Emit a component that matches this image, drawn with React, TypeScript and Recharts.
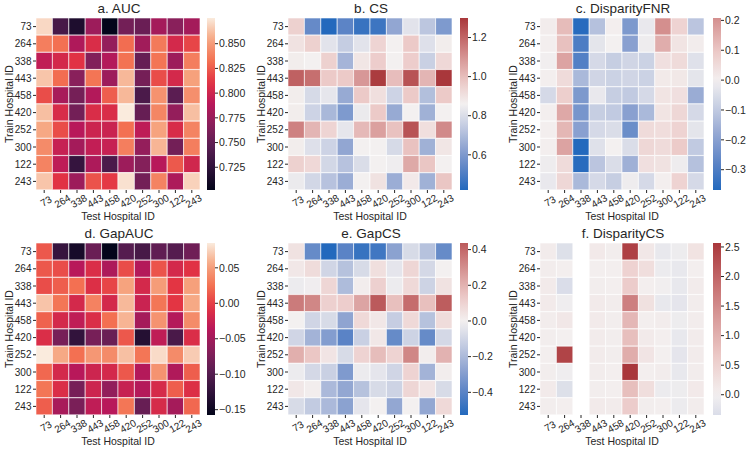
import React from 'react';
import { BarChart, Bar, XAxis, YAxis, Cell } from 'recharts';

const HOSPITALS = ['73', '264', '338', '443', '458', '420', '252', '300', '122', '243'];

// rows = train hospital, columns = test hospital (same order as HOSPITALS)
const AUC = [
  [0.870, 0.737, 0.716, 0.777, 0.702, 0.758, 0.754, 0.780, 0.768, 0.780],
  [0.838, 0.832, 0.785, 0.806, 0.773, 0.831, 0.779, 0.836, 0.803, 0.817],
  [0.793, 0.803, 0.810, 0.765, 0.787, 0.833, 0.752, 0.834, 0.777, 0.838],
  [0.864, 0.831, 0.768, 0.834, 0.777, 0.860, 0.759, 0.820, 0.803, 0.852],
  [0.820, 0.782, 0.759, 0.787, 0.826, 0.860, 0.739, 0.846, 0.747, 0.845],
  [0.862, 0.805, 0.758, 0.806, 0.806, 0.876, 0.752, 0.841, 0.773, 0.862],
  [0.855, 0.820, 0.789, 0.799, 0.798, 0.832, 0.792, 0.853, 0.805, 0.840],
  [0.843, 0.796, 0.780, 0.794, 0.796, 0.838, 0.773, 0.859, 0.758, 0.838],
  [0.840, 0.792, 0.728, 0.784, 0.739, 0.777, 0.766, 0.789, 0.824, 0.801],
  [0.864, 0.810, 0.777, 0.822, 0.813, 0.873, 0.758, 0.840, 0.784, 0.868],
];

const CS = [
  [0.95, 0.55, 0.42, 0.53, 0.46, 0.47, 0.64, 0.82, 0.73, 0.60],
  [0.90, 0.95, 0.82, 0.75, 0.82, 0.94, 0.86, 0.97, 0.81, 0.87],
  [0.87, 0.86, 0.95, 0.68, 0.89, 0.96, 0.86, 0.96, 0.76, 0.93],
  [1.21, 1.18, 0.97, 0.97, 1.09, 1.29, 1.00, 1.24, 1.02, 1.30],
  [0.87, 0.79, 0.83, 0.65, 0.97, 0.91, 0.77, 0.97, 0.71, 0.97],
  [0.87, 0.77, 0.69, 0.60, 0.84, 0.97, 0.65, 0.86, 0.67, 0.86],
  [1.14, 1.02, 0.94, 0.83, 1.01, 1.07, 0.99, 1.24, 0.91, 1.12],
  [0.87, 0.81, 0.77, 0.64, 0.86, 0.86, 0.79, 0.99, 0.67, 0.89],
  [0.95, 0.93, 0.78, 0.72, 0.80, 0.86, 0.85, 1.05, 0.98, 0.86],
  [0.84, 0.78, 0.72, 0.66, 0.86, 0.90, 0.66, 0.88, 0.67, 0.98],
];

const DISPARITY_FNR = [
  [0.01, 0.12, -0.36, -0.12, 0.005, -0.22, -0.02, 0.208, 0.07, -0.11],
  [0.005, 0.11, -0.30, -0.03, 0.0, -0.20, -0.01, 0.15, 0.03, 0.01],
  [-0.005, 0.17, -0.29, -0.06, -0.09, -0.07, -0.08, 0.04, 0.05, -0.04],
  [0.005, 0.05, -0.14, -0.07, -0.08, -0.07, -0.08, 0.015, 0.02, -0.03],
  [-0.06, 0.08, -0.22, -0.02, -0.09, -0.10, -0.06, 0.03, 0.04, -0.17],
  [0.005, 0.16, -0.23, -0.09, -0.10, -0.20, -0.14, 0.03, 0.06, -0.06],
  [0.005, 0.13, -0.20, -0.06, -0.05, -0.25, 0.05, 0.045, 0.07, -0.03],
  [0.005, 0.17, -0.368, -0.04, 0.0, -0.05, 0.06, 0.05, 0.09, -0.10],
  [-0.01, 0.05, -0.36, -0.11, -0.05, -0.16, 0.04, 0.035, -0.01, -0.12],
  [-0.02, 0.06, -0.14, -0.06, -0.09, -0.01, -0.06, 0.005, 0.07, -0.06],
];

const GAP_AUC = [
  [0.012, -0.121, -0.143, -0.085, -0.1575, -0.099, -0.109, -0.092, -0.099, -0.082],
  [0.012, 0.007, -0.036, -0.012, -0.043, 0.007, -0.039, 0.010, -0.017, -0.007],
  [0.007, 0.015, 0.024, -0.010, 0.003, 0.053, -0.017, 0.049, -0.005, 0.051],
  [0.068, 0.027, -0.017, 0.034, -0.017, 0.063, -0.024, 0.027, -0.005, 0.056],
  [0.017, -0.017, -0.031, -0.012, 0.024, 0.061, -0.048, 0.044, -0.039, 0.039],
  [-0.012, -0.077, -0.124, -0.077, -0.085, 0.012, -0.133, -0.031, -0.107, -0.012],
  [0.085, 0.056, 0.024, 0.046, 0.039, 0.066, 0.027, 0.078, 0.039, 0.071],
  [0.020, -0.017, -0.036, -0.022, -0.017, 0.012, -0.039, 0.044, -0.041, 0.015],
  [0.027, -0.012, -0.077, -0.022, -0.060, -0.026, -0.039, -0.015, 0.015, -0.010],
  [0.015, -0.046, -0.075, -0.031, -0.036, 0.027, -0.087, -0.015, -0.048, 0.020],
];

const GAP_CS = [
  [0.05, -0.37, -0.527, -0.40, -0.48, -0.46, -0.28, -0.08, -0.17, -0.37],
  [0.03, 0.07, -0.10, -0.17, -0.08, 0.06, -0.04, 0.09, -0.09, 0.00],
  [-0.02, -0.01, 0.09, -0.19, 0.01, 0.11, -0.02, 0.08, -0.11, 0.05],
  [0.35, 0.32, 0.11, 0.12, 0.24, 0.437, 0.16, 0.39, 0.16, 0.43],
  [0.00, -0.10, -0.08, -0.27, 0.08, 0.03, -0.13, 0.08, -0.17, 0.07],
  [-0.10, -0.22, -0.30, -0.40, -0.12, 0.03, -0.37, -0.11, -0.37, -0.09],
  [0.21, 0.14, 0.04, -0.08, 0.10, 0.17, 0.10, 0.32, 0.01, 0.20],
  [-0.02, -0.09, -0.12, -0.31, -0.02, -0.04, -0.10, 0.10, -0.22, 0.01],
  [0.03, 0.01, -0.20, -0.26, -0.17, -0.08, -0.11, 0.09, 0.04, -0.08],
  [-0.08, -0.14, -0.20, -0.28, -0.04, 0.00, -0.26, 0.00, -0.26, 0.08],
];

const DISPARITY_CS = [
  [0.08, -0.30, null, 0.12, 0.05, 2.45, 0.15, -0.15, -0.08, 0.22],
  [0.06, 0.03, null, 0.04, 0.03, 0.50, 0.30, -0.10, -0.15, 0.03],
  [0.10, -0.343, null, 0.05, 0.04, 0.60, 0.04, -0.03, -0.15, 0.08],
  [0.10, -0.05, null, 0.10, 0.06, 1.65, 0.25, -0.15, -0.20, 0.06],
  [0.06, 0.15, null, 0.10, 0.05, 0.90, 0.04, 0.07, -0.08, 0.06],
  [0.05, 0.02, null, 0.08, 0.05, 0.80, 0.10, 0.04, -0.15, 0.08],
  [0.04, 2.40, null, 0.08, 0.05, 1.05, 0.20, 0.02, -0.20, 0.08],
  [0.05, -0.05, null, 0.06, 0.04, 2.567, 0.04, 0.06, -0.15, 0.06],
  [0.10, -0.30, null, 0.05, 0.03, 0.80, 0.30, -0.10, -0.08, 0.12],
  [0.05, 0.04, null, 0.10, 0.08, 0.60, 0.05, 0.04, -0.10, 0.06],
];

const AUC_TICKS = [0.725, 0.75, 0.775, 0.8, 0.825, 0.85];
const CS_TICKS = [0.6, 0.8, 1.0, 1.2];
const FNR_TICKS = [-0.3, -0.2, -0.1, 0.0, 0.1, 0.2];
const GAP_AUC_TICKS = [-0.15, -0.1, -0.05, 0.0, 0.05];
const GAP_CS_TICKS = [-0.4, -0.2, 0.0, 0.2, 0.4];
const DISP_CS_TICKS = [0.0, 0.5, 1.0, 1.5, 2.0, 2.5];

const FONT = '"Liberation Sans", Arial, sans-serif';
const INK = '#262626';
const CELL_W = 164;
const CELL_H = 172;
const CB_W = 8;
const CB_PAD = 10;
const RIGHT_PAD = 14;

const ROCKET: [number, string][] = [
  [0, '#03051a'], [0.125, '#2d1239'], [0.25, '#581d51'], [0.375, '#87205b'],
  [0.5, '#b8185a'], [0.625, '#e23343'], [0.75, '#f37152'], [0.875, '#f6a681'], [1, '#faebdd'],
];
const VLAG: [number, string][] = [
  [0, '#2369bd'], [0.125, '#5c84c6'], [0.25, '#92a6d2'], [0.375, '#c5cde2'],
  [0.5, '#f3f0f0'], [0.625, '#eccac8'], [0.75, '#d99c9b'], [0.875, '#c46a6b'], [1, '#a9373b'],
];

const rgb = (h: string) => [1, 3, 5].map((i) => parseInt(h.slice(i, i + 2), 16));

function sample(stops: [number, string][], t: number) {
  const x = Math.max(0, Math.min(1, t));
  for (let i = 1; i < stops.length; i++) {
    if (x <= stops[i][0]) {
      const [t0, c0] = stops[i - 1];
      const [t1, c1] = stops[i];
      const f = (x - t0) / (t1 - t0);
      const a = rgb(c0);
      const b = rgb(c1);
      return `rgb(${a.map((v, k) => Math.round(v + (b[k] - v) * f)).join(',')})`;
    }
  }
  return stops[stops.length - 1][1];
}

interface Panel {
  id: string;
  title: string;
  values: (number | null)[][];
  cmap: [number, string][];
  center?: number;
  ticks: number[];
  digits: number;
  plotX: number;
  plotY: number;
  cbX: number;
}

const PANELS: Panel[] = [
  { id: 'a', title: 'a. AUC', values: AUC, cmap: ROCKET, ticks: AUC_TICKS, digits: 3, plotX: 36, plotY: 18, cbX: 207 },
  { id: 'b', title: 'b. CS', values: CS, cmap: VLAG, ticks: CS_TICKS, digits: 1, plotX: 288, plotY: 18, cbX: 460 },
  { id: 'c', title: 'c. DisparityFNR', values: DISPARITY_FNR, cmap: VLAG, center: 0, ticks: FNR_TICKS, digits: 1, plotX: 540, plotY: 18, cbX: 712.5 },
  { id: 'd', title: 'd. GapAUC', values: GAP_AUC, cmap: ROCKET, ticks: GAP_AUC_TICKS, digits: 2, plotX: 36, plotY: 243, cbX: 207 },
  { id: 'e', title: 'e. GapCS', values: GAP_CS, cmap: VLAG, center: 0, ticks: GAP_CS_TICKS, digits: 1, plotX: 288, plotY: 243, cbX: 460 },
  { id: 'f', title: 'f. DisparityCS', values: DISPARITY_CS, cmap: VLAG, center: 0, ticks: DISP_CS_TICKS, digits: 1, plotX: 540, plotY: 243, cbX: 712.5 },
];

const fmt = (v: number, d: number) => v.toFixed(d).replace('-', '\u2212');

function HeatPanel({ p }: { p: Panel }) {
  const flat = p.values.flat().filter((v): v is number => v !== null);
  const vmin = Math.min(...flat);
  const vmax = Math.max(...flat);
  let norm = (v: number) => (v - vmin) / (vmax - vmin);
  if (p.center !== undefined) {
    const c = p.center;
    const r = Math.max(Math.abs(vmin - c), Math.abs(vmax - c));
    norm = (v: number) => 0.5 + (v - c) / (2 * r);
  }
  const color = (v: number | null) => (v === null ? 'none' : sample(p.cmap, norm(v)));

  const rows = HOSPITALS.map((h) => {
    const d: Record<string, string | number> = { row: h };
    HOSPITALS.forEach((_, j) => (d[`c${j}`] = 1));
    return d;
  });
  const colTicks = HOSPITALS.map((_, j) => j + 0.5);
  const gradStops = Array.from({ length: 21 }, (_, k) => k / 20);
  const tickStyle = { fontSize: 10, fill: INK, fontFamily: FONT };
  const text: React.CSSProperties = { position: 'absolute', fontFamily: FONT, color: INK, whiteSpace: 'nowrap', lineHeight: 1 };

  return (
    <>
      <div style={{ ...text, left: p.plotX + CELL_W / 2 + 1, top: p.plotY - 16, fontSize: 13.5, transform: 'translateX(-50%)' }}>
        {p.title}
      </div>
      <div style={{ ...text, left: p.plotX + CELL_W / 2, top: p.plotY + CELL_H + 21, fontSize: 10.5, transform: 'translateX(-50%)' }}>
        Test Hospital ID
      </div>
      <div style={{ ...text, left: p.plotX - 27, top: p.plotY + CELL_H / 2, fontSize: 10.5, transform: 'translate(-50%, -50%) rotate(-90deg)' }}>
        Train Hospital ID
      </div>
      <div style={{ position: 'absolute', left: p.plotX - 36, top: p.plotY }}>
        <BarChart
          layout="vertical"
          width={CELL_W + 36 + RIGHT_PAD}
          height={CELL_H + 32}
          data={rows}
          margin={{ top: 0, right: RIGHT_PAD, bottom: 0, left: 0 }}
          barCategoryGap={0}
          barGap={0}
        >
          <XAxis
            type="number"
            domain={[0, 10]}
            ticks={colTicks}
            interval={0}
            tickFormatter={(v: number) => HOSPITALS[Math.floor(v)]}
            angle={-30}
            textAnchor="middle"
            axisLine={false}
            tickSize={3}
            tickMargin={5}
            tickLine={{ stroke: INK }}
            tick={tickStyle}
            height={32}
          />
          <YAxis
            type="category"
            dataKey="row"
            width={36}
            interval={0}
            axisLine={false}
            tickSize={3}
            tickMargin={1.5}
            tickLine={{ stroke: INK }}
            tick={tickStyle}
          />
          {HOSPITALS.map((_, j) => (
            <Bar key={j} dataKey={`c${j}`} stackId="s" isAnimationActive={false}>
              {rows.map((_, i) => (
                <Cell
                  key={i}
                  fill={color(p.values[i][j])}
                  stroke={p.values[i][j] === null ? 'none' : '#ffffff'}
                  strokeWidth={0.6}
                />
              ))}
            </Bar>
          ))}
        </BarChart>
      </div>
      <div style={{ position: 'absolute', left: p.cbX, top: p.plotY - CB_PAD }}>
        <BarChart
          width={CB_W + 34}
          height={CELL_H + 2 * CB_PAD}
          data={[{ name: 'cb', range: [vmin, vmax] }]}
          margin={{ top: CB_PAD, right: 0, bottom: CB_PAD, left: 0 }}
          barCategoryGap={0}
        >
          <defs>
            <linearGradient id={`grad-${p.id}`} x1="0" y1="1" x2="0" y2="0">
              {gradStops.map((f) => (
                <stop key={f} offset={f} stopColor={color(vmin + (vmax - vmin) * f)} />
              ))}
            </linearGradient>
          </defs>
          <XAxis dataKey="name" type="category" hide />
          <YAxis
            type="number"
            orientation="right"
            domain={[vmin, vmax]}
            ticks={p.ticks}
            interval={0}
            tickFormatter={(v: number) => fmt(v, p.digits)}
            width={34}
            axisLine={false}
            tickSize={3}
            tickMargin={1}
            tickLine={{ stroke: INK }}
            tick={{ ...tickStyle, fontSize: 10.5 }}
          />
          <Bar dataKey="range" fill={`url(#grad-${p.id})`} isAnimationActive={false} />
        </BarChart>
      </div>
    </>
  );
}

export default function App(): React.ReactElement {
  return (
    <div style={{ position: 'absolute', left: 0, top: 0, width: 750, height: 450, background: '#fff', overflow: 'hidden' }}>
      {PANELS.map((p) => (
        <HeatPanel key={p.id} p={p} />
      ))}
    </div>
  );
}
